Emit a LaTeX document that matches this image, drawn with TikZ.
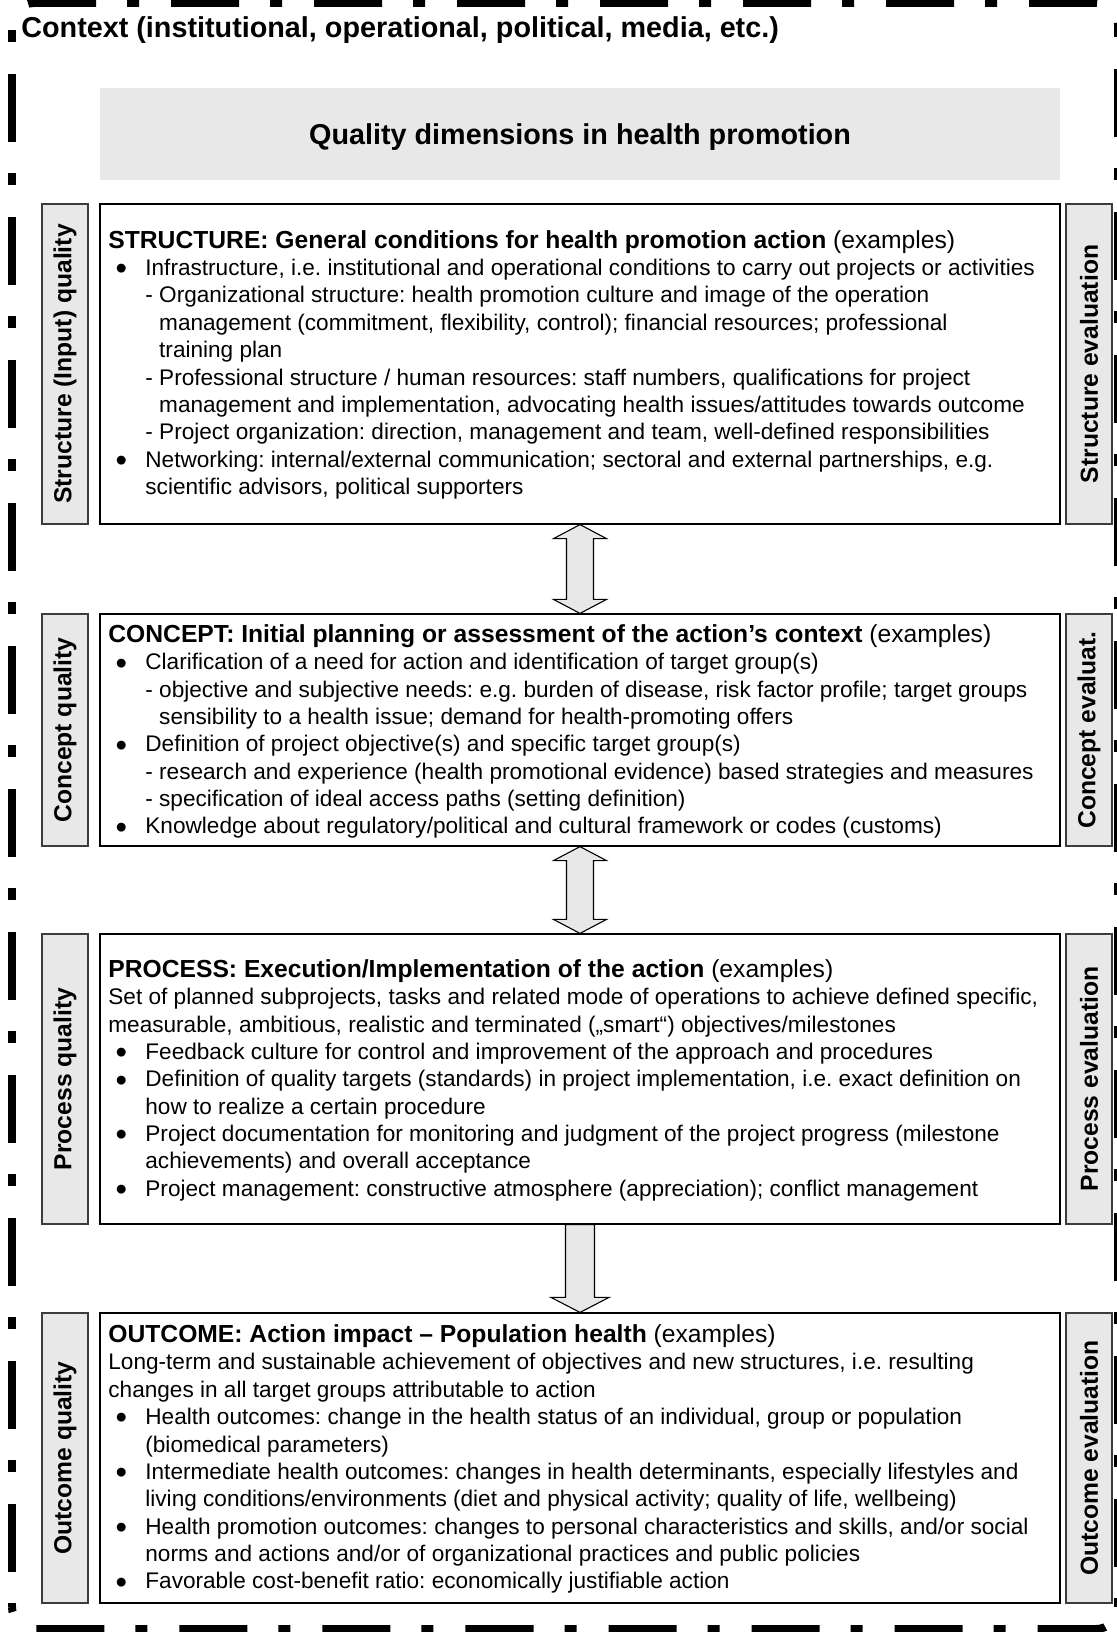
\documentclass[tikz,border=0pt]{standalone}
\usepackage{fontspec}
\setmainfont{Liberation Sans}
\usetikzlibrary{fit,calc}
\frenchspacing
\definecolor{panelgray}{HTML}{E8E8E8}
\definecolor{framegray}{HTML}{3C3C3C}

\newcommand\bodyfont{\fontsize{11.3pt}{13.68pt}\selectfont}
\newcommand\titlesize{\fontsize{12.33pt}{13.68pt}\selectfont}
\newcommand\labelfont{\fontsize{12.33pt}{14pt}\selectfont\bfseries}
\newcommand\headfont{\fontsize{14.38pt}{17pt}\selectfont\bfseries}
% bullet in a fixed-width slot, item text starts after it
\newcommand\bitem{\makebox[18.5pt][l]{\hspace*{3.6pt}\raisebox{-0.19em}{\scalebox{1.45}{\textbullet}}}}
\newcommand\hind{\hspace*{18.5pt}}
\newcommand\dind{\hspace*{18.5pt}\phantom{-\ }}
\newcommand\textrow[1]{\hbox{#1}}
\newcommand\titlerow[2]{\hbox{\titlesize\textbf{#1} #2}}
\newcommand\textblock[1]{\vtop{\baselineskip=13.68pt\lineskiplimit=-50pt\lineskip=0pt #1}}

\tikzset{
  mainbox/.style={draw=black, line width=0.6pt, fill=white, inner sep=0pt},
  sidebox/.style={draw=framegray, line width=0.55pt, fill=panelgray, inner sep=0pt},
  sidelabel/.style={rotate=90, font=\labelfont, inner sep=0pt},
  bodytext/.style={anchor=base west, inner sep=0pt, font=\bodyfont},
  blockarrow/.style={draw=black, line width=0.55pt, fill=panelgray, line join=miter},
  ctxframe/.style={line width=4pt, dash pattern=on 34pt off 15.5pt on 6pt off 16pt, rounded corners=11pt},
}

\begin{document}
\begin{tikzpicture}[x=0.5pt,y=-0.5pt]
\useasboundingbox (0,0) rectangle (1117,1632);

% dash-dotted context frame
\draw[ctxframe, dash phase=57.2pt] (12,25) -- (12,3) -- (1118,3) -- (1118,25);
\draw[ctxframe, dash phase=49.5pt] (1118,25) -- (1118,1607);
\draw[ctxframe, dash phase=47pt] (12,25) -- (12,1607);
\draw[ctxframe, dash phase=53pt] (12,1607) -- (12,1629) -- (1118,1629) -- (1118,1607);

\node[anchor=base west, inner sep=0pt, font=\headfont] (ctx) at (21,37.2)
  {Context (institutional, operational, political, media, etc.)};

% heading band
\node[fit={(100,88) (1060,180)}, inner sep=0pt, fill=panelgray] (hdr) {};
\node[anchor=base, inner sep=0pt, font=\headfont] (hdrT) at ($(hdr.center)+(0,10)$)
  {Quality dimensions in health promotion};

% main boxes
\node[mainbox, fit={(100,204) (1060,524)}] (sB) {};
\node[mainbox, fit={(100,614) (1060,846)}] (cB) {};
\node[mainbox, fit={(100,934) (1060,1224)}] (pB) {};
\node[mainbox, fit={(100,1313) (1060,1603)}] (oB) {};

% side label boxes
\node[sidebox, fit={(42,204) (88,524)}] (sL) {};
\node[sidebox, fit={(1066,204) (1112,524)}] (sR) {};
\node[sidebox, fit={(42,614) (88,846)}] (cL) {};
\node[sidebox, fit={(1066,614) (1112,846)}] (cR) {};
\node[sidebox, fit={(42,934) (88,1224)}] (pL) {};
\node[sidebox, fit={(1066,934) (1112,1224)}] (pR) {};
\node[sidebox, fit={(42,1313) (88,1603)}] (oL) {};
\node[sidebox, fit={(1066,1313) (1112,1603)}] (oR) {};

\node[sidelabel] (sLT) at (sL.center) {Structure (Input) quality};
\node[sidelabel] (sRT) at (sR.center) {Structure evaluation};
\node[sidelabel] (cLT) at (cL.center) {Concept quality};
\node[sidelabel] (cRT) at (cR.center) {Concept evaluat.};
\node[sidelabel] (pLT) at (pL.center) {Process quality};
\node[sidelabel] (pRT) at (pR.center) {Process evaluation};
\node[sidelabel] (oLT) at (oL.center) {Outcome quality};
\node[sidelabel] (oRT) at (oR.center) {Outcome evaluation};

% box contents
\node[bodytext] (sT) at (108,248.2) {\textblock{%
\titlerow{STRUCTURE: General conditions for health promotion action}{(examples)}
\textrow{\bitem Infrastructure, i.e. institutional and operational conditions to carry out projects or activities}
\textrow{\hind - Organizational structure: health promotion culture and image of the operation}
\textrow{\dind management (commitment, flexibility, control); financial resources; professional}
\textrow{\dind training plan}
\textrow{\hind - Professional structure / human resources: staff numbers, qualifications for project}
\textrow{\dind management and implementation, advocating health issues/attitudes towards outcome}
\textrow{\hind - Project organization: direction, management and team, well-defined responsibilities}
\textrow{\bitem Networking: internal/external communication; sectoral and external partnerships, e.g.}
\textrow{\hind scientific advisors, political supporters}}};

\node[bodytext] (cT) at (108,642.4) {\textblock{%
\titlerow{CONCEPT: Initial planning or assessment of the action’s context}{(examples)}
\textrow{\bitem Clarification of a need for action and identification of target group(s)}
\textrow{\hind - objective and subjective needs: e.g. burden of disease, risk factor profile; target groups}
\textrow{\dind sensibility to a health issue; demand for health-promoting offers}
\textrow{\bitem Definition of project objective(s) and specific target group(s)}
\textrow{\hind - research and experience (health promotional evidence) based strategies and measures}
\textrow{\hind - specification of ideal access paths (setting definition)}
\textrow{\bitem Knowledge about regulatory/political and cultural framework or codes (customs)}}};

\node[bodytext] (pT) at (108,977.4) {\textblock{%
\titlerow{PROCESS: Execution/Implementation of the action}{(examples)}
\textrow{Set of planned subprojects, tasks and related mode of operations to achieve defined specific,}
\textrow{measurable, ambitious, realistic and terminated („smart“) objectives/milestones}
\textrow{\bitem Feedback culture for control and improvement of the approach and procedures}
\textrow{\bitem Definition of quality targets (standards) in project implementation, i.e. exact definition on}
\textrow{\hind how to realize a certain procedure}
\textrow{\bitem Project documentation for monitoring and judgment of the project progress (milestone}
\textrow{\hind achievements) and overall acceptance}
\textrow{\bitem Project management: constructive atmosphere (appreciation); conflict management}}};

\node[bodytext] (oT) at (108,1342.6) {\textblock{%
\titlerow{OUTCOME: Action impact – Population health}{(examples)}
\textrow{Long-term and sustainable achievement of objectives and new structures, i.e. resulting}
\textrow{changes in all target groups attributable to action}
\textrow{\bitem Health outcomes: change in the health status of an individual, group or population}
\textrow{\hind (biomedical parameters)}
\textrow{\bitem Intermediate health outcomes: changes in health determinants, especially lifestyles and}
\textrow{\hind living conditions/environments (diet and physical activity; quality of life, wellbeing)}
\textrow{\bitem Health promotion outcomes: changes to personal characteristics and skills, and/or social}
\textrow{\hind norms and actions and/or of organizational practices and public policies}
\textrow{\bitem Favorable cost-benefit ratio: economically justifiable action}}};

% block arrows between the quality dimensions
\draw[blockarrow] (sB.south) -- ++(26.5,14) -- ++(-13,0) -- ($(cB.north)+(13.5,-14)$)
  -- ++(13,0) -- (cB.north) -- ++(-26.5,-14) -- ++(13,0) -- ($(sB.south)+(-13.5,14)$)
  -- ++(-13,0) -- cycle;
\draw[blockarrow] (cB.south) -- ++(26.5,14) -- ++(-13,0) -- ($(pB.north)+(13.5,-14)$)
  -- ++(13,0) -- (pB.north) -- ++(-26.5,-14) -- ++(13,0) -- ($(cB.south)+(-13.5,14)$)
  -- ++(-13,0) -- cycle;
\draw[blockarrow] ($(pB.south)+(-14.5,0)$) -- ($(oB.north)+(-14.5,-15)$) -- ++(-14.5,0)
  -- (oB.north) -- ++(29,-15) -- ++(-14.5,0) -- ($(pB.south)+(14.5,0)$) -- cycle;
\end{tikzpicture}
\end{document}
